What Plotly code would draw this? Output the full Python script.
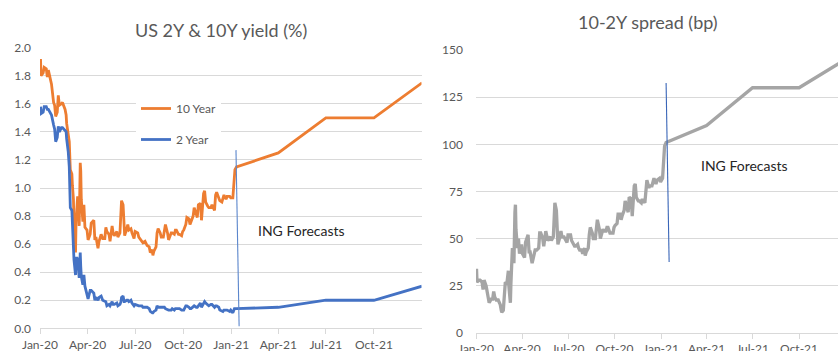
import plotly.graph_objects as go

# --- Historical US Treasury yields (%), sampled a few times per week ---
hist_dates = [
    "2020-01-02", "2020-01-03", "2020-01-07", "2020-01-09", "2020-01-13", "2020-01-15",
    "2020-01-17", "2020-01-21", "2020-01-23", "2020-01-27", "2020-01-29", "2020-01-31",
    "2020-02-03", "2020-02-05", "2020-02-07", "2020-02-11", "2020-02-13", "2020-02-18",
    "2020-02-20", "2020-02-21", "2020-02-24", "2020-02-26", "2020-02-28",
    "2020-03-02", "2020-03-03", "2020-03-05", "2020-03-06", "2020-03-09", "2020-03-10",
    "2020-03-12", "2020-03-13", "2020-03-16", "2020-03-17", "2020-03-18", "2020-03-19",
    "2020-03-20", "2020-03-23", "2020-03-25", "2020-03-27", "2020-03-31",
    "2020-04-02", "2020-04-06", "2020-04-08", "2020-04-13", "2020-04-15", "2020-04-17",
    "2020-04-21", "2020-04-23", "2020-04-27", "2020-04-30",
    "2020-05-04", "2020-05-06", "2020-05-08", "2020-05-12", "2020-05-14", "2020-05-18",
    "2020-05-20", "2020-05-22", "2020-05-27", "2020-05-29",
    "2020-06-02", "2020-06-04", "2020-06-05", "2020-06-08", "2020-06-10", "2020-06-11",
    "2020-06-15", "2020-06-17", "2020-06-19", "2020-06-23", "2020-06-25", "2020-06-29",
    "2020-07-01", "2020-07-06", "2020-07-08", "2020-07-10", "2020-07-14", "2020-07-16",
    "2020-07-20", "2020-07-22", "2020-07-24", "2020-07-28", "2020-07-30",
    "2020-08-03", "2020-08-04", "2020-08-06", "2020-08-10", "2020-08-12", "2020-08-14",
    "2020-08-18", "2020-08-20", "2020-08-24", "2020-08-26", "2020-08-28",
    "2020-09-01", "2020-09-03", "2020-09-08", "2020-09-10", "2020-09-14", "2020-09-16",
    "2020-09-18", "2020-09-22", "2020-09-24", "2020-09-28", "2020-09-30",
    "2020-10-02", "2020-10-06", "2020-10-08", "2020-10-12", "2020-10-14", "2020-10-16",
    "2020-10-20", "2020-10-22", "2020-10-26", "2020-10-28", "2020-10-30",
    "2020-11-03", "2020-11-05", "2020-11-09", "2020-11-11", "2020-11-13", "2020-11-17",
    "2020-11-19", "2020-11-23", "2020-11-25", "2020-11-30",
    "2020-12-02", "2020-12-04", "2020-12-08", "2020-12-10", "2020-12-14", "2020-12-16",
    "2020-12-18", "2020-12-22", "2020-12-24", "2020-12-29", "2020-12-31",
    "2021-01-04", "2021-01-06", "2021-01-07", "2021-01-08",
]

ust10y_hist = [
    1.92, 1.80, 1.82, 1.86, 1.85, 1.79,
    1.84, 1.78, 1.74, 1.61, 1.59, 1.51,
    1.54, 1.66, 1.59, 1.60, 1.61, 1.56,
    1.52, 1.46, 1.38, 1.33, 1.13,
    1.10, 1.02, 0.92, 0.74, 0.54, 0.76,
    0.88, 0.94, 0.73, 1.08, 1.18, 1.12,
    0.92, 0.76, 0.88, 0.72, 0.70,
    0.63, 0.67, 0.75, 0.77, 0.63, 0.65,
    0.57, 0.62, 0.67, 0.64,
    0.64, 0.72, 0.69, 0.67, 0.62, 0.73,
    0.68, 0.66, 0.69, 0.65,
    0.68, 0.82, 0.91, 0.88, 0.74, 0.66,
    0.71, 0.74, 0.70, 0.71, 0.68, 0.64,
    0.69, 0.68, 0.65, 0.64, 0.62, 0.61,
    0.62, 0.60, 0.59, 0.58, 0.54,
    0.56, 0.52, 0.55, 0.58, 0.68, 0.71,
    0.68, 0.65, 0.65, 0.69, 0.74,
    0.68, 0.63, 0.68, 0.68, 0.67, 0.70,
    0.70, 0.67, 0.67, 0.66, 0.69,
    0.70, 0.74, 0.79, 0.78, 0.74, 0.76,
    0.80, 0.86, 0.81, 0.79, 0.88,
    0.89, 0.77, 0.96, 0.98, 0.90, 0.87,
    0.86, 0.86, 0.88, 0.84,
    0.95, 0.97, 0.92, 0.91, 0.90, 0.92,
    0.95, 0.92, 0.94, 0.94, 0.93,
    0.93, 1.04, 1.08, 1.13,
]

ust2y_hist = [
    1.58, 1.53, 1.54, 1.58, 1.58, 1.56,
    1.56, 1.53, 1.52, 1.45, 1.42, 1.33,
    1.36, 1.44, 1.40, 1.43, 1.43, 1.41,
    1.40, 1.35, 1.26, 1.15, 0.86,
    0.84, 0.72, 0.59, 0.49, 0.38, 0.50,
    0.50, 0.49, 0.36, 0.47, 0.54, 0.44,
    0.37, 0.31, 0.38, 0.30, 0.23,
    0.21, 0.27, 0.27, 0.25, 0.20, 0.22,
    0.20, 0.22, 0.23, 0.20,
    0.19, 0.19, 0.16, 0.17, 0.16, 0.19,
    0.17, 0.17, 0.18, 0.16,
    0.17, 0.19, 0.22, 0.23, 0.19, 0.19,
    0.20, 0.20, 0.19, 0.20, 0.18, 0.16,
    0.17, 0.16, 0.16, 0.16, 0.16, 0.15,
    0.15, 0.15, 0.15, 0.14, 0.12,
    0.11, 0.11, 0.12, 0.13, 0.16, 0.15,
    0.15, 0.15, 0.15, 0.15, 0.14,
    0.13, 0.13, 0.13, 0.14, 0.13, 0.14,
    0.14, 0.14, 0.14, 0.13, 0.13,
    0.13, 0.16, 0.16, 0.15, 0.14, 0.14,
    0.15, 0.16, 0.15, 0.15, 0.16,
    0.18, 0.15, 0.18, 0.19, 0.18, 0.17,
    0.16, 0.17, 0.17, 0.15,
    0.16, 0.16, 0.15, 0.13, 0.12, 0.12,
    0.13, 0.13, 0.13, 0.12, 0.13,
    0.11, 0.14, 0.14, 0.14,
]

# --- ING forecasts (quarter ends) ---
fc_dates = ["2021-01-11", "2021-04-01", "2021-07-01", "2021-10-01", "2022-01-01"]
ust10y_fc = [1.15, 1.25, 1.50, 1.50, 1.75]
ust2y_fc = [0.14, 0.15, 0.20, 0.20, 0.30]

dates = hist_dates + fc_dates
ust10y = ust10y_hist + ust10y_fc
ust2y = ust2y_hist + ust2y_fc
spread_bp = [round((a - b) * 100, 1) for a, b in zip(ust10y, ust2y)]

ORANGE = "#ED7D31"
BLUE = "#4472C4"
GREY = "#A5A5A5"
GRID = "#D9D9D9"
TXT = "#595959"
FONT = "Lato"

W, H = 838, 351


def px_x(p):
    return p / W


def px_y(p):
    return (H - p) / H


fig = go.Figure()

fig.add_trace(go.Scatter(
    x=dates, y=ust10y, name="10 Year", mode="lines",
    line=dict(color=ORANGE, width=2.8), xaxis="x", yaxis="y",
    legendgroup="a",
))
fig.add_trace(go.Scatter(
    x=dates, y=ust2y, name="2 Year", mode="lines",
    line=dict(color=BLUE, width=2.8), xaxis="x", yaxis="y",
    legendgroup="b",
))
fig.add_trace(go.Scatter(
    x=dates, y=spread_bp, name="10-2Y spread", mode="lines",
    line=dict(color=GREY, width=3.3), xaxis="x2", yaxis="y2",
    showlegend=False,
))

xaxis_common = dict(
    type="date", tickformat="%b-%y", dtick="M3", tick0="2020-01-01",
    showgrid=False, showline=True, linecolor=GRID, linewidth=1,
    ticks="outside", ticklen=5, tickcolor=GRID,
    tickfont=dict(family=FONT, size=12, color=TXT),
    zeroline=False, fixedrange=True, automargin=False,
)
yaxis_common = dict(
    showgrid=True, gridcolor=GRID, gridwidth=1, zeroline=False,
    showline=False, ticks="", automargin=False,
    tickfont=dict(family=FONT, size=12, color=TXT),
)

fig.update_layout(
    width=W, height=H,
    margin=dict(l=0, r=0, t=0, b=0, pad=0, autoexpand=False),
    paper_bgcolor="white", plot_bgcolor="white",
    font=dict(family=FONT, color=TXT),
    xaxis=dict(xaxis_common, domain=[px_x(40), px_x(421.5)],
               range=["2020-01-01", "2021-12-31"], anchor="y"),
    yaxis=dict(yaxis_common, domain=[px_y(328.3), px_y(47.7)],
               range=[0, 2], dtick=0.2, tickformat=".1f",
               ticklabelstandoff=8, anchor="x"),
    xaxis2=dict(xaxis_common, domain=[px_x(476), 1],
                range=["2020-01-01", "2021-12-17"], anchor="y2"),
    yaxis2=dict(yaxis_common, domain=[px_y(333), px_y(50)],
                range=[0, 150], dtick=25,
                ticklabelstandoff=12, anchor="x2"),
    legend=dict(
        x=px_x(136), y=px_y(94), xanchor="left", yanchor="top",
        bgcolor="white", borderwidth=0,
        font=dict(family=FONT, size=12, color=TXT),
        tracegroupgap=12, itemwidth=30,
    ),
    showlegend=True,
)

# Forecast start markers
fig.add_shape(type="line", xref="x", yref="y",
              x0="2021-01-10", y0=1.27, x1="2021-01-16", y1=0.015,
              line=dict(color="#5B86CC", width=1.1))
fig.add_shape(type="line", xref="x2", yref="y2",
              x0="2021-01-11", y0=132.5, x1="2021-01-17", y1=37.6,
              line=dict(color="#3A66B8", width=1.1))

fig.add_annotation(x="2021-02-18", y=0.70, xref="x", yref="y",
                   text="ING Forecasts", showarrow=False, xanchor="left",
                   font=dict(family=FONT, size=14, color="#262626"))
fig.add_annotation(x="2021-03-17", y=89, xref="x2", yref="y2",
                   text="ING Forecasts", showarrow=False, xanchor="left",
                   font=dict(family=FONT, size=14, color="#262626"))

# Chart titles
fig.add_annotation(x=px_x(221), y=px_y(30), xref="paper", yref="paper",
                   text="US 2Y & 10Y yield (%)", showarrow=False,
                   xanchor="center", yanchor="middle",
                   font=dict(family=FONT, size=18, color=TXT))
fig.add_annotation(x=px_x(648), y=px_y(22), xref="paper", yref="paper",
                   text="10-2Y spread (bp)", showarrow=False,
                   xanchor="center", yanchor="middle",
                   font=dict(family=FONT, size=18, color=TXT))

fig.write_html("out.html")
